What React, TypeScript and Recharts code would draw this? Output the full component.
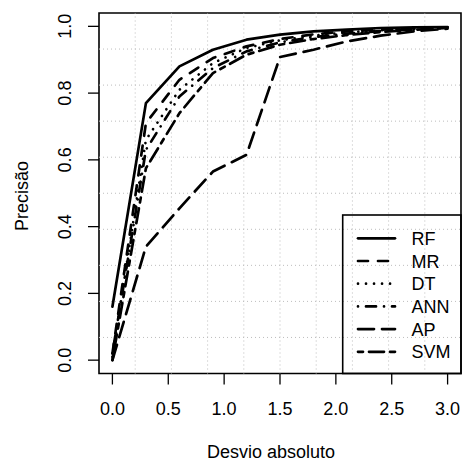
import React from 'react';
import { LineChart, Line, XAxis, YAxis, ReferenceLine, ReferenceArea } from 'recharts';

const desvio = [0, 0.3, 0.6, 0.9, 1.2, 1.5, 1.8, 2.1, 2.4, 2.7, 3.0];
const rf = [0.16, 0.77, 0.88, 0.93, 0.96, 0.975, 0.985, 0.99, 0.995, 0.997, 0.998];
const mr = [0.02, 0.71, 0.84, 0.905, 0.94, 0.962, 0.976, 0.985, 0.99, 0.994, 0.997];
const dt = [0.01, 0.66, 0.81, 0.89, 0.935, 0.958, 0.972, 0.982, 0.988, 0.993, 0.996];
const ann = [0.02, 0.63, 0.79, 0.875, 0.925, 0.952, 0.968, 0.978, 0.986, 0.991, 0.995];
const ap = [0.0, 0.34, 0.455, 0.565, 0.615, 0.908, 0.93, 0.955, 0.972, 0.985, 0.993];
const svm = [0.0, 0.575, 0.74, 0.86, 0.915, 0.945, 0.962, 0.974, 0.983, 0.99, 0.995];

const xTicks = [0, 0.5, 1, 1.5, 2, 2.5, 3];
const yTicks = [0, 0.2, 0.4, 0.6, 0.8, 1];
const gridX = [0.204, 0.528, 0.852, 1.176, 1.5, 1.824, 2.148, 2.472, 2.796];
const gridY = [0.068, 0.176, 0.284, 0.392, 0.5, 0.608, 0.716, 0.824, 0.932];

const seriesNames = ['RF', 'MR', 'DT', 'ANN', 'AP', 'SVM'];
const seriesKeys = ['rf', 'mr', 'dt', 'ann', 'ap', 'svm'];
const dashes = ['', '10 10', '0.01 8', '0.01 8 10 8', '16 8', '5 6 15 6'];

const data = desvio.map((d, i) => ({
  d,
  rf: rf[i],
  mr: mr[i],
  dt: dt[i],
  ann: ann[i],
  ap: ap[i],
  svm: svm[i],
}));

const FONT = '"Liberation Sans", Arial, Helvetica, sans-serif';
const FS = 18;
const GRID = '#bdbdbd';

const XTick = (props: any) => {
  const { x, y, payload } = props;
  return (
    <text x={x} y={y} dy={30.5} textAnchor="middle" fontFamily={FONT} fontSize={FS} fill="#000">
      {Number(payload.value).toFixed(1)}
    </text>
  );
};

const YTick = (props: any) => {
  const { x, y, payload } = props;
  return (
    <text
      x={0}
      y={0}
      transform={`translate(${x - 17.5},${y}) rotate(-90)`}
      textAnchor="middle"
      fontFamily={FONT}
      fontSize={FS}
      fill="#000"
    >
      {Number(payload.value).toFixed(1)}
    </text>
  );
};

export default function App() {
  return (
    <div style={{ position: 'absolute', left: 0, top: 0, width: 462, height: 463, background: '#fff' }}>
      <LineChart width={462} height={463} data={data} margin={{ top: 13, right: 1, left: 0, bottom: 0 }}>
        {gridX.map((g) => (
          <ReferenceLine key={'gx' + g} x={g} stroke={GRID} strokeDasharray="1 3" strokeWidth={1} />
        ))}
        {gridY.map((g) => (
          <ReferenceLine key={'gy' + g} y={g} stroke={GRID} strokeDasharray="1 3" strokeWidth={1} />
        ))}
        <XAxis
          dataKey="d"
          type="number"
          domain={[-0.12, 3.12]}
          allowDataOverflow
          ticks={xTicks}
          interval={0}
          height={89.5}
          tickSize={11}
          tickMargin={0}
          axisLine={false}
          tickLine={{ stroke: '#000', strokeWidth: 1.3 }}
          tick={<XTick />}
          label={{
            content: () => (
              <text x={271} y={458} textAnchor="middle" fontFamily={FONT} fontSize={FS} fill="#000">
                Desvio absoluto
              </text>
            ),
          }}
        />
        <YAxis
          type="number"
          domain={[-0.04, 1.04]}
          allowDataOverflow
          ticks={yTicks}
          interval={0}
          width={99}
          tickSize={11}
          tickMargin={0}
          axisLine={false}
          tickLine={{ stroke: '#000', strokeWidth: 1.3 }}
          tick={<YTick />}
          label={{
            content: () => (
              <text
                x={0}
                y={0}
                transform="translate(28,196) rotate(-90)"
                textAnchor="middle"
                fontFamily={FONT}
                fontSize={FS}
                fill="#000"
              >
                Precisão
              </text>
            ),
          }}
        />
        {seriesKeys.map((k, i) => (
          <Line
            key={k}
            dataKey={k}
            type="linear"
            stroke="#000"
            strokeWidth={2.7}
            strokeDasharray={dashes[i] || undefined}
            strokeLinecap="round"
            strokeLinejoin="round"
            dot={false}
            activeDot={false}
            isAnimationActive={false}
          />
        ))}
        <ReferenceArea
          x1={-0.12}
          x2={3.12}
          y1={-0.04}
          y2={1.04}
          fill="none"
          fillOpacity={0}
          stroke="#000"
          strokeWidth={1.6}
          ifOverflow="visible"
        />
      </LineChart>
      <svg
        width={462}
        height={463}
        style={{ position: 'absolute', left: 0, top: 0, pointerEvents: 'none' }}
      >
        <rect x={342.7} y={215} width={118.3} height={158.5} fill="none" stroke="#000" strokeWidth={1.6} />
        {seriesNames.map((n, i) => {
          const cy = 238.3 + 22.7 * i;
          return (
            <g key={n}>
              <line
                x1={358}
                x2={395}
                y1={cy}
                y2={cy}
                stroke="#000"
                strokeWidth={2.7}
                strokeLinecap="round"
                strokeDasharray={dashes[i] || undefined}
              />
              <text x={411.5} y={cy + 6.5} fontFamily={FONT} fontSize={FS} fill="#000">
                {n}
              </text>
            </g>
          );
        })}
      </svg>
    </div>
  );
}
